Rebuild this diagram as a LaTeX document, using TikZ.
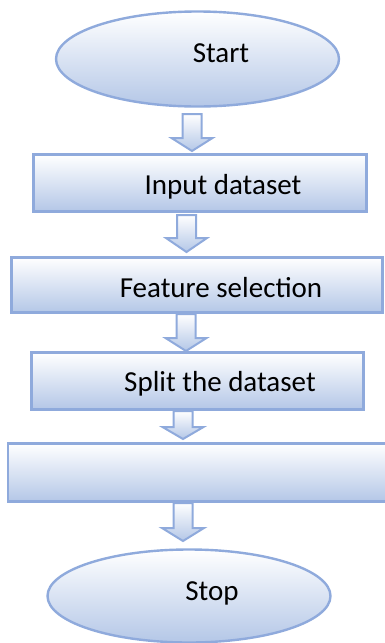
\documentclass[tikz,border=0pt]{standalone}
\usepackage{fontspec}
\setmainfont{Carlito}
\usetikzlibrary{shapes.geometric}
\definecolor{edgeblue}{HTML}{8FAADC}
\definecolor{fillblue}{HTML}{B4C7E7}
\tikzset{
  shapefill/.style={draw=edgeblue, line width=2.4pt, top color=white, bottom color=fillblue},
  termnode/.style={shapefill, ellipse, inner sep=0pt},
  procnode/.style={shapefill, rectangle, inner sep=0pt},
  labeltext/.style={anchor=base, inner sep=0pt, font=\fontsize{29}{35}\selectfont, text=black},
  blockarrow/.style={draw=edgeblue, line width=2pt, line join=miter, top color=white, bottom color=fillblue}
}
% #1 centre x, #2 tail y, #3 shoulder y, #4 tip y, #5 half shaft, #6 half head
\newcommand{\blkarrow}[6]{%
  \path[blockarrow] (#1-#5,#2) -- (#1+#5,#2) -- (#1+#5,#3) -- (#1+#6,#3) -- (#1,#4)
    -- (#1-#6,#3) -- (#1-#5,#3) -- cycle;}
\begin{document}
\begin{tikzpicture}[x=1pt,y=-1pt]
\useasboundingbox (0,0) rectangle (385,643);
\clip (0,0) rectangle (385,643);
% terminals and process boxes
\node[termnode, minimum width=283pt, minimum height=95pt] (start) at (197.5,59) {};
\node[procnode, minimum width=333pt, minimum height=57pt] (input) at (200,183) {};
\node[procnode, minimum width=371pt, minimum height=55pt] (feature) at (197,285) {};
\node[procnode, minimum width=332pt, minimum height=57pt] (split) at (197.5,381) {};
\node[procnode, minimum width=400pt, minimum height=58pt] (blank) at (208,472.5) {};
\node[termnode, minimum width=283pt, minimum height=93pt] (stop) at (189,596) {};
% texts
\node[labeltext] (tstart) at (221,62) {Start};
\node[labeltext] (tinput) at (223,194) {Input dataset};
\node[labeltext] (tfeature) at (221,297) {Feature selection};
\node[labeltext] (tsplit) at (220,391) {Split the dataset};
\node[labeltext] (tstop) at (212,600) {Stop};
% block arrows
\blkarrow{192}{114}{138}{151}{9.5}{20.5}
\blkarrow{186.5}{215}{238}{252}{9.5}{20.5}
\blkarrow{186}{314}{338}{351}{9.5}{20.5}
\blkarrow{183}{411}{427}{439}{9.5}{20.5}
\blkarrow{183}{503}{528}{541}{9.5}{21}
\end{tikzpicture}
\end{document}
